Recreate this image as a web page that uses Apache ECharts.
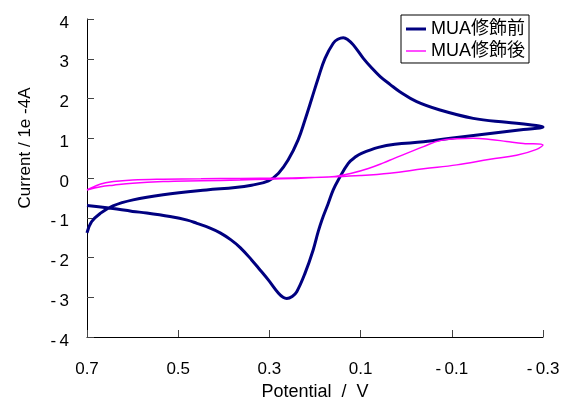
<!DOCTYPE html>
<html>
<head>
<meta charset="utf-8">
<script src="https://cdn.jsdelivr.net/npm/echarts@6/dist/echarts.min.js"></script>
<style>
    html, body { margin: 0; padding: 0; background: #fff; }
    #main { width: 566px; height: 399px; }
</style>
</head>
<body>
<div id="main"></div>
<script>
// potential (V) and current (1e-4 A), in scan order
var beforeV = [0.70, 0.67, 0.643, 0.60, 0.569, 0.518, 0.48, 0.459, 0.43, 0.408, 0.385, 0.364, 0.339, 0.32, 0.302, 0.28, 0.27, 0.262, 0.25, 0.24, 0.222, 0.204, 0.193, 0.185, 0.171, 0.16, 0.149, 0.127, 0.11, 0.098, 0.061, 0.025, -0.038, -0.111, -0.184, -0.257, -0.30,
    -0.271, -0.22, -0.147, -0.074, -0.023, 0.014, 0.035, 0.057, 0.075, 0.094, 0.116, 0.128, 0.138, 0.15, 0.16, 0.178, 0.193, 0.207, 0.222, 0.237, 0.259, 0.28, 0.302, 0.339, 0.375, 0.438, 0.533, 0.599, 0.643, 0.671, 0.69, 0.70];
var beforeI = [-0.69, -0.73, -0.77, -0.84, -0.88, -0.97, -1.06, -1.14, -1.26, -1.38, -1.55, -1.75, -2.06, -2.32, -2.57, -2.90, -3.00, -3.03, -2.98, -2.86, -2.40, -1.81, -1.35, -1.06, -0.64, -0.30, -0.05, 0.37, 0.54, 0.62, 0.77, 0.85, 0.91, 1.02, 1.12, 1.22, 1.28,
    1.34, 1.40, 1.50, 1.71, 1.92, 2.17, 2.35, 2.55, 2.76, 3.01, 3.35, 3.48, 3.53, 3.49, 3.39, 3.01, 2.51, 2.00, 1.46, 0.96, 0.45, 0.12, -0.07, -0.18, -0.24, -0.30, -0.42, -0.55, -0.70, -0.89, -1.10, -1.38];

var afterV = [0.70, 0.67, 0.642, 0.60, 0.533, 0.45, 0.364, 0.30, 0.25, 0.20, 0.156, 0.12, 0.083, 0.05, 0.025, -0.038, -0.074, -0.11, -0.147, -0.184, -0.22, -0.257, -0.30,
    -0.286, -0.242, -0.184, -0.111, -0.038, 0.036, 0.10, 0.156, 0.25, 0.364, 0.45, 0.533, 0.60, 0.642, 0.67, 0.70];
var afterI = [-0.30, -0.22, -0.18, -0.13, -0.09, -0.07, -0.05, -0.03, -0.01, 0.01, 0.04, 0.12, 0.24, 0.38, 0.50, 0.79, 0.94, 0.99, 1.00, 0.97, 0.92, 0.87, 0.83,
    0.72, 0.57, 0.47, 0.33, 0.23, 0.12, 0.06, 0.03, 0.00, -0.01, -0.02, -0.03, -0.05, -0.09, -0.15, -0.30];

var xTicks = [0.7, 0.5, 0.3, 0.1, -0.1, -0.3];
var seriesNames = ['MUA修飾前', 'MUA修飾後'];

function pairs(xs, ys) {
    var out = [];
    for (var i = 0; i < xs.length; i++) {
        out.push([xs[i], ys[i]]);
    }
    return out;
}

// excel puts a small gap after the minus sign
function tickText(v) {
    var s = String(Math.abs(v));
    return v < 0 ? '-\u2009' + s : s;
}

var font = "'Liberation Sans', Arial, 'Noto Sans CJK JP', sans-serif";
var myChart = echarts.init(document.getElementById('main'));

var option = {
    backgroundColor: '#fff',
    animation: false,
    textStyle: { fontFamily: font },
    grid: { left: 87, right: 23, top: 19, bottom: 62, outerBoundsMode: 'none' },
    legend: {
        orient: 'vertical',
        right: 37,
        top: 15,
        data: [
            { name: seriesNames[0], icon: 'path://M0,0M20,12M0,4.5H20V7.5H0Z' },
            { name: seriesNames[1], icon: 'path://M0,0M20,12M0,5.3H20V6.7H0Z' }
        ],
        itemWidth: 20,
        itemHeight: 12,
        itemGap: 4,
        padding: [5, 4, 3, 5],
        borderColor: '#000',
        borderWidth: 1,
        textStyle: { fontFamily: font, fontSize: 18, color: '#000' }
    },
    xAxis: {
        type: 'value',
        min: -0.3,
        max: 0.7,
        inverse: true,
        name: 'Potential  /  V',
        nameLocation: 'middle',
        nameGap: 40,
        nameTextStyle: { fontFamily: font, fontSize: 18, color: '#000' },
        axisLine: { onZero: false, lineStyle: { color: '#000', width: 1 } },
        axisTick: { inside: true, length: 7, customValues: xTicks, lineStyle: { color: '#444' } },
        axisLabel: { customValues: xTicks, margin: 24, formatter: tickText, fontFamily: font, fontSize: 17, color: '#000' },
        splitLine: { show: false }
    },
    yAxis: {
        type: 'value',
        min: -4,
        max: 4,
        interval: 1,
        axisLine: { show: true, onZero: false, lineStyle: { color: '#000', width: 1 } },
        axisTick: { show: true, inside: true, length: 7, lineStyle: { color: '#444' } },
        axisLabel: { margin: 18, verticalAlign: 'top', lineHeight: 8, formatter: tickText, fontFamily: font, fontSize: 17, color: '#000' },
        splitLine: { show: false }
    },
    graphic: [{
        type: 'text',
        x: 25,
        y: 148,
        rotation: Math.PI / 2,
        style: {
            text: 'Current / 1e -4A',
            fontFamily: font,
            fontSize: 17,
            fill: '#000',
            align: 'center',
            verticalAlign: 'middle'
        }
    }],
    series: [
        {
            name: seriesNames[0],
            type: 'line',
            data: pairs(beforeV, beforeI),
            symbol: 'none',
            smooth: 0.4,
            lineStyle: { color: '#000080', width: 3 },
            itemStyle: { color: '#000080' }
        },
        {
            name: seriesNames[1],
            type: 'line',
            data: pairs(afterV, afterI),
            symbol: 'none',
            smooth: 0.4,
            lineStyle: { color: '#ff00ff', width: 1.5 },
            itemStyle: { color: '#ff00ff' }
        }
    ]
};

myChart.setOption(option);
</script>
</body>
</html>
